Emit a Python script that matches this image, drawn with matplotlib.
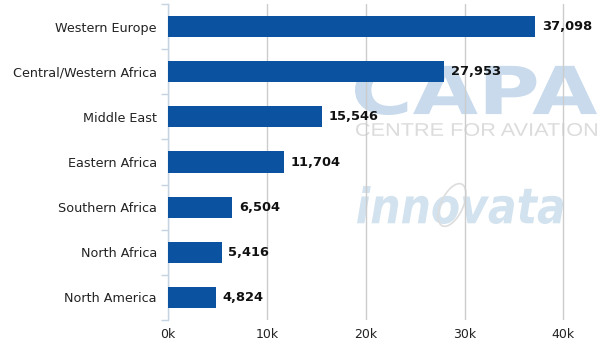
import matplotlib
matplotlib.use("Agg")
import matplotlib.pyplot as plt
from matplotlib.ticker import FuncFormatter
from matplotlib.textpath import TextPath
from matplotlib.font_manager import FontProperties
from matplotlib.patches import PathPatch, Ellipse
from matplotlib.transforms import Affine2D, IdentityTransform

regions = ["Western Europe", "Central/Western Africa", "Middle East", "Eastern Africa",
           "Southern Africa", "North Africa", "North America"]
seats = [37098, 27953, 15546, 11704, 6504, 5416, 4824]
x_ticks = [0, 10000, 20000, 30000, 40000]

bar_color = "#0b52a0"
grid_color = "#cccccc"
axis_color = "#c5d3e3"

plt.rcParams["font.family"] = ["DejaVu Sans"]

W, H = 600, 349
fig = plt.figure(figsize=(W / 100, H / 100), dpi=100)
ax = fig.add_axes([168 / W, 1 - 320 / H, (W - 168) / W, (320 - 4) / H])


def watermark(text, box, color, **font):
    """Draw text as a filled path stretched into a pixel box (x0, y0, x1, y1 from top-left)."""
    path = TextPath((0, 0), text, size=100, prop=FontProperties(**font))
    ext = path.get_extents()
    x0, y0, x1, y1 = box
    sx = (x1 - x0) / ext.width
    sy = (y1 - y0) / ext.height
    tr = (Affine2D().translate(-ext.x0, -ext.y0).scale(sx, sy)
          .translate(x0, H - y1))
    patch = PathPatch(tr.transform_path(path), facecolor=color, edgecolor="none",
                      transform=IdentityTransform(), zorder=1)
    ax.add_artist(patch)


watermark("CAPA", (355, 65, 597, 115), "#c8daec", family="DejaVu Sans", weight="bold")
watermark("CENTRE FOR AVIATION", (356, 123, 597, 136), "#dcdcdc",
          family="Liberation Sans")
watermark("innovata", (357, 186, 563, 224), "#d2e2ee", family="DejaVu Sans",
          weight="bold", style="italic")
ax.add_artist(Ellipse((452, H - 205), 22, 46, angle=-25, fill=False, edgecolor="#dddddd",
                      linewidth=1.2, transform=IdentityTransform(), zorder=1))

y = list(range(len(regions)))
ax.barh(y, seats, height=0.47, color=bar_color, zorder=3)
for yi, v in zip(y, seats):
    ax.annotate(f"{v:,}", (v, yi), xytext=(5, 0), textcoords="offset points",
                va="center", ha="left", fontsize=9.4, fontweight="bold",
                color="#111111", zorder=4)

ax.set_ylim(len(regions) - 0.5, -0.5)
ax.set_xlim(0, 43700)
ax.set_xticks(x_ticks)
ax.xaxis.set_major_formatter(FuncFormatter(lambda v, p: f"{int(v / 1000)}k"))
ax.set_yticks(y)
ax.set_yticklabels(regions, fontsize=9.2, color="#222222")
ax.set_yticks([i + 0.5 for i in range(-1, len(regions))], minor=True)
ax.tick_params(axis="y", which="major", length=0, pad=8)
ax.tick_params(axis="y", which="minor", length=5, color=axis_color, width=1)
ax.tick_params(axis="x", length=0, labelsize=9, labelcolor="#222222", pad=6)

ax.grid(axis="x", color=grid_color, linewidth=1, zorder=0)
for s in ["top", "right", "bottom"]:
    ax.spines[s].set_visible(False)
ax.spines["left"].set_color(axis_color)
ax.spines["left"].set_linewidth(1)

fig.savefig("out.png", dpi=100)
